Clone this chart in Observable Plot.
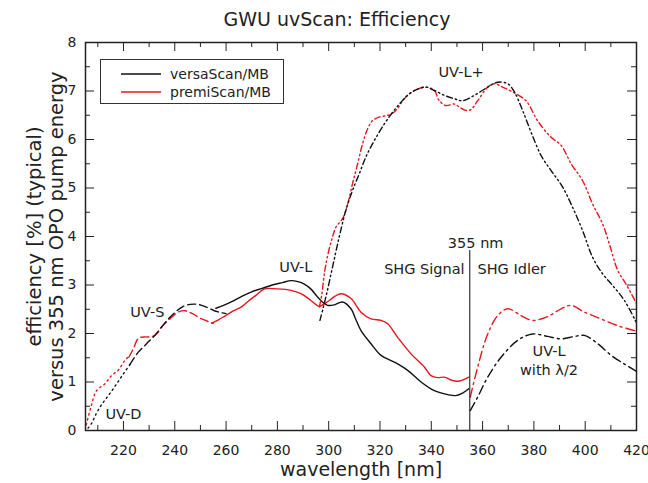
<!DOCTYPE html>
<html><head><meta charset="utf-8">
<script src="https://cdn.jsdelivr.net/npm/d3@7"></script>
<script src="https://cdn.jsdelivr.net/npm/@observablehq/plot@0.6"></script>
<style>
body{margin:0;background:#fff;}
#wrap{position:relative;width:648px;height:483px;font-family:"DejaVu Sans",sans-serif;}
#legend{position:absolute;left:100px;top:59px;width:182px;height:43px;border:1px solid #333;background:#fff;}
</style></head>
<body><div id="wrap"></div>
<script>
// ---- data (wavelength nm, efficiency %) ----
const seriesNames = ["versaScan/MB", "premiScan/MB"];
const seriesColors = ["#111111", "#e8161e"];

// versaScan/MB (black)
const versaD_wl  = [206.2, 207.5, 209.5, 212.1, 214.7, 217.3, 220.0, 222.8];
const versaD_eff = [0.05, 0.14, 0.36, 0.58, 0.76, 0.96, 1.17, 1.38];
const versaS_wl  = [222.5, 225.7, 229.0, 232.2, 234.8, 237.5, 240.0, 243.0, 246.0, 249.0, 252.0, 255.0, 258.0, 260.0];
const versaS_eff = [1.36, 1.61, 1.79, 1.96, 2.13, 2.30, 2.43, 2.55, 2.60, 2.60, 2.55, 2.48, 2.43, 2.41];
const versaL_wl  = [256.0, 259.0, 262.0, 266.0, 270.0, 274.0, 278.0, 282.0, 285.3, 288.0, 290.5, 293.0, 295.7, 298.0, 299.6, 302.2, 305.4, 308.7, 310.5, 312.6, 316.5, 320.4, 325.6, 330.8, 336.0, 341.2, 346.4, 349.6, 352.2, 354.6];
const versaL_eff = [2.52, 2.58, 2.65, 2.76, 2.86, 2.93, 3.00, 3.05, 3.09, 3.07, 3.02, 2.92, 2.75, 2.63, 2.58, 2.59, 2.65, 2.51, 2.30, 2.06, 1.79, 1.55, 1.41, 1.24, 1.00, 0.82, 0.74, 0.72, 0.77, 0.86];
const versaLp_wl  = [296.6, 298.9, 301.5, 304.1, 306.7, 309.3, 311.9, 314.5, 317.8, 321.7, 324.9, 328.2, 331.4, 334.7, 337.9, 341.2, 345.1, 349.0, 352.2, 356.8, 362.0, 365.9, 369.8, 372.4, 375.6, 378.9, 382.8, 386.7, 391.2, 395.1, 399.0, 402.9, 406.8, 410.7, 415.3, 420.0];
const versaLp_eff = [2.27, 2.75, 3.37, 3.99, 4.54, 4.95, 5.29, 5.64, 5.98, 6.32, 6.56, 6.77, 6.94, 7.04, 7.08, 7.01, 6.91, 6.84, 6.80, 6.91, 7.08, 7.18, 7.15, 6.98, 6.60, 6.15, 5.67, 5.36, 5.02, 4.60, 4.12, 3.57, 3.23, 2.99, 2.68, 2.22];
const versaH_wl  = [355.2, 358.1, 362.0, 367.2, 373.7, 379.5, 385.4, 390.6, 395.8, 399.7, 404.9, 410.1, 415.3, 420.0];
const versaH_eff = [0.41, 0.69, 1.10, 1.51, 1.86, 1.99, 1.94, 1.89, 1.94, 1.96, 1.79, 1.55, 1.37, 1.22];

// premiScan/MB (red)
const premiD_wl  = [205.5, 207.3, 209.5, 212.7, 215.3, 217.9, 220.5, 222.5];
const premiD_eff = [0.12, 0.48, 0.82, 0.96, 1.13, 1.24, 1.44, 1.55];
const premiS_wl  = [222.1, 224.0, 225.8, 228.5, 231.0, 233.1, 234.8, 238.1, 241.3, 244.0, 247.2, 250.5, 255.0];
const premiS_eff = [1.51, 1.70, 1.90, 1.93, 1.93, 2.00, 2.13, 2.30, 2.44, 2.47, 2.40, 2.30, 2.21];
const premiL_wl  = [254.3, 257.0, 259.8, 263.0, 266.0, 268.5, 271.5, 275.0, 280.0, 285.3, 289.2, 293.1, 296.3, 298.0, 300.2, 302.5, 304.8, 308.7, 312.6, 316.5, 320.4, 323.0, 326.9, 332.1, 337.3, 339.9, 342.5, 345.1, 348.3, 351.0, 354.6];
const premiL_eff = [2.21, 2.28, 2.37, 2.47, 2.55, 2.66, 2.78, 2.92, 2.92, 2.89, 2.82, 2.68, 2.56, 2.60, 2.68, 2.77, 2.82, 2.72, 2.44, 2.30, 2.27, 2.20, 1.92, 1.58, 1.31, 1.13, 1.09, 1.10, 1.03, 1.02, 1.10];
const premiLp_wl  = [296.4, 297.3, 298.5, 300.0, 301.5, 302.8, 305.4, 307.4, 309.3, 311.3, 313.2, 315.2, 317.1, 319.7, 323.6, 326.2, 329.5, 333.4, 337.9, 341.2, 343.1, 345.7, 349.0, 350.9, 353.5, 355.5, 358.1, 362.0, 364.6, 367.8, 371.7, 376.9, 381.4, 386.6, 390.6, 394.5, 399.0, 402.9, 406.8, 409.4, 412.7, 415.9, 420.0];
const premiLp_eff = [2.55, 2.80, 3.30, 3.70, 3.99, 4.19, 4.37, 4.67, 5.09, 5.50, 5.91, 6.22, 6.39, 6.46, 6.51, 6.60, 6.84, 7.01, 7.08, 7.01, 6.80, 6.70, 6.73, 6.67, 6.60, 6.62, 6.80, 7.08, 7.15, 7.08, 6.98, 6.80, 6.39, 6.05, 5.88, 5.50, 5.15, 4.67, 4.26, 3.85, 3.30, 3.02, 2.62];
const premiH_wl  = [355.2, 358.1, 362.0, 365.9, 369.8, 375.0, 379.5, 385.4, 390.6, 394.5, 399.7, 406.2, 412.7, 420.0];
const premiH_eff = [0.69, 1.31, 1.99, 2.37, 2.51, 2.37, 2.27, 2.35, 2.51, 2.58, 2.44, 2.30, 2.16, 2.05];

// tick values
const xMajor = [220, 240, 260, 280, 300, 320, 340, 360, 380, 400, 420];
const xMinor = [210, 230, 250, 270, 290, 310, 330, 350, 370, 390, 410];
const yMajor = [0, 1, 2, 3, 4, 5, 6, 7, 8];
const yMinor = [0.5, 1.5, 2.5, 3.5, 4.5, 5.5, 6.5, 7.5];

// annotations
const pumpLine = [{wl: 355, eff0: 0, eff1: 3.71}];
const notes = [
  {text: "UV-D", wl: 220.0, eff: 0.33, anchor: "middle"},
  {text: "UV-S", wl: 229.3, eff: 2.43, anchor: "middle"},
  {text: "UV-L", wl: 287.2, eff: 3.36, anchor: "middle"},
  {text: "UV-L+", wl: 351.6, eff: 7.38, anchor: "middle"},
  {text: "355 nm", wl: 357.3, eff: 3.86, anchor: "middle"},
  {text: "SHG Signal", wl: 353.0, eff: 3.33, anchor: "end"},
  {text: "SHG Idler", wl: 358.0, eff: 3.33, anchor: "start"},
  {text: "UV-L", wl: 385.9, eff: 1.64, anchor: "middle"},
  {text: "with λ/2", wl: 385.9, eff: 1.23, anchor: "middle"}
];

// ---- build tables ----
function rows(series, wl, eff) { return wl.map((w, i) => ({series, wl: w, eff: eff[i]})); }
const segD  = [...rows(seriesNames[1], premiD_wl, premiD_eff),  ...rows(seriesNames[0], versaD_wl, versaD_eff)];
const segS  = [...rows(seriesNames[1], premiS_wl, premiS_eff),  ...rows(seriesNames[0], versaS_wl, versaS_eff)];
const segL  = [...rows(seriesNames[1], premiL_wl, premiL_eff),  ...rows(seriesNames[0], versaL_wl, versaL_eff)];
const segLp = [...rows(seriesNames[1], premiLp_wl, premiLp_eff),...rows(seriesNames[0], versaLp_wl, versaLp_eff)];
const segH  = [...rows(seriesNames[1], premiH_wl, premiH_eff),  ...rows(seriesNames[0], versaH_wl, versaH_eff)];

const W = 648, H = 483, mL = 85, mR = 12, mT = 42, mB = 53;
const fw = W - mL - mR, fh = H - mT - mB;
const lineOpts = (dash) => ({x: "wl", y: "eff", z: "series", stroke: "series", strokeWidth: 1.4, strokeDasharray: dash, curve: "catmull-rom"});

const plot = Plot.plot({
  width: W, height: H,
  marginLeft: mL, marginRight: mR, marginTop: mT, marginBottom: mB,
  style: {fontFamily: "'DejaVu Sans', sans-serif", fontSize: "14px", color: "#222", background: "#fff", overflow: "visible"},
  x: {domain: [205.2, 420], axis: null, label: null},
  y: {domain: [0, 8], axis: null, label: null},
  color: {domain: seriesNames, range: seriesColors},
  marks: [
    Plot.line(segD, lineOpts("1.5,3.5")),
    Plot.line(segS, lineOpts("8,4")),
    Plot.line(segL, lineOpts(null)),
    Plot.line(segLp, lineOpts("6,3,1.5,3,1.5,3")),
    Plot.line(segH, lineOpts("9,4,2,4")),
    Plot.ruleX(pumpLine, {x: "wl", y1: "eff0", y2: "eff1", stroke: "#222", strokeWidth: 1.1}),
    Plot.text(notes.filter(d => d.anchor === "middle"), {x: "wl", y: "eff", text: "text", fontSize: 14.5, fill: "#222"}),
    Plot.text(notes.filter(d => d.anchor === "end"), {x: "wl", y: "eff", text: "text", fontSize: 14.5, fill: "#222", textAnchor: "end"}),
    Plot.text(notes.filter(d => d.anchor === "start"), {x: "wl", y: "eff", text: "text", fontSize: 14.5, fill: "#222", textAnchor: "start"}),
    // ticks (inward, all four sides)
    Plot.tickX(xMajor, {x: d => d, insetTop: fh - 9, stroke: "#222"}),
    Plot.tickX(xMinor, {x: d => d, insetTop: fh - 5, stroke: "#222"}),
    Plot.tickX(xMajor, {x: d => d, insetBottom: fh - 9, stroke: "#222"}),
    Plot.tickX(xMinor, {x: d => d, insetBottom: fh - 5, stroke: "#222"}),
    Plot.tickY(yMajor, {y: d => d, insetRight: fw - 9, stroke: "#222"}),
    Plot.tickY(yMinor, {y: d => d, insetRight: fw - 5, stroke: "#222"}),
    Plot.tickY(yMajor, {y: d => d, insetLeft: fw - 9, stroke: "#222"}),
    Plot.tickY(yMinor, {y: d => d, insetLeft: fw - 5, stroke: "#222"}),
    Plot.axisX(xMajor, {anchor: "bottom", tickSize: 0, tickPadding: 15, fill: "#222", label: null}),
    Plot.axisY(yMajor, {anchor: "left", tickSize: 0, tickPadding: 9, fill: "#222", label: null}),
    Plot.frame({stroke: "#222", strokeWidth: 1.5}),
    Plot.text(["GWU uvScan: Efficiency"], {frameAnchor: "top", lineAnchor: "middle", dy: -23, dx: -24, fontSize: 19, fill: "#222"}),
    Plot.text(["wavelength [nm]"], {frameAnchor: "bottom", lineAnchor: "middle", dy: 39, fontSize: 19, fill: "#222"}),
    Plot.text(["efficiency [%] (typical)"], {frameAnchor: "left", textAnchor: "middle", lineAnchor: "middle", dx: -51, rotate: -90, fontSize: 19.5, fill: "#222"}),
    Plot.text(["versus 355 nm OPO pump energy"], {frameAnchor: "left", textAnchor: "middle", lineAnchor: "middle", dx: -29, rotate: -90, fontSize: 19.5, fill: "#222"})
  ]
});

const wrap = document.getElementById("wrap");
wrap.appendChild(plot);

// legend
const leg = document.createElement("div");
leg.id = "legend";
const ls = d3.create("svg").attr("width", 182).attr("height", 43);
seriesNames.forEach((name, i) => {
  const cy = 14 + i * 18;
  ls.append("line").attr("x1", 20).attr("x2", 60).attr("y1", cy).attr("y2", cy)
    .attr("stroke", seriesColors[i]).attr("stroke-width", 1.4);
  ls.append("text").attr("x", 69).attr("y", cy).attr("dy", "0.35em")
    .attr("font-family", "'DejaVu Sans', sans-serif").attr("font-size", 14).attr("fill", "#222").text(name);
});
leg.appendChild(ls.node());
wrap.appendChild(leg);
</script></body></html>
